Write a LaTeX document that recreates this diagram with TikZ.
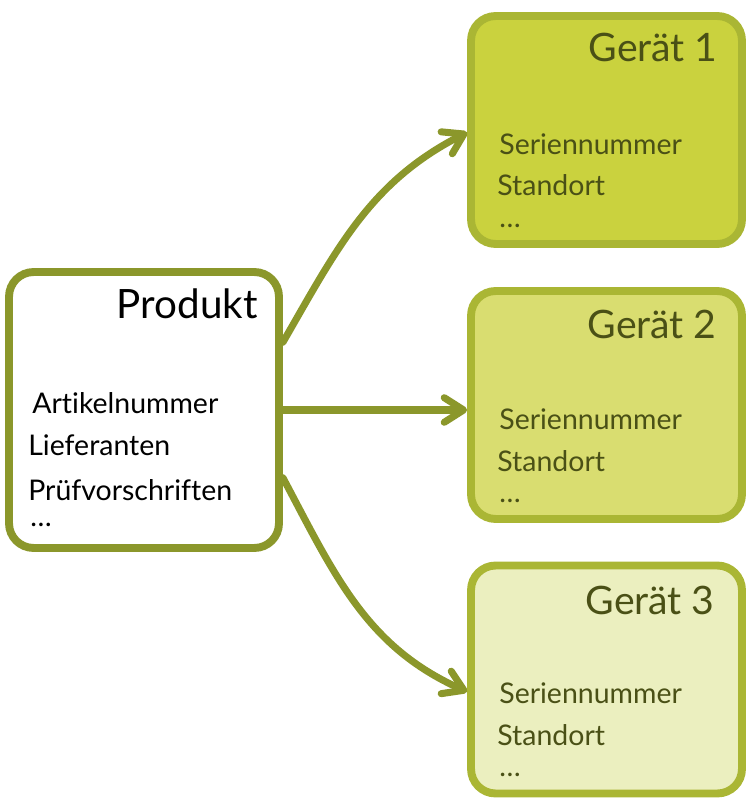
\documentclass[tikz,border=0pt]{standalone}
\usepackage{fontspec}
\setmainfont{Lato}[Ligatures=NoCommon]
\usepackage{xcolor}
\usepackage{tikz}
\usetikzlibrary{arrows.meta, positioning}

\definecolor{oliveline}{RGB}{139,151,43}
\definecolor{devline}{RGB}{170,182,52}
\definecolor{devtext}{RGB}{74,80,22}
\definecolor{devA}{RGB}{202,210,62}
\definecolor{devB}{RGB}{217,221,112}
\definecolor{devC}{RGB}{235,239,191}

\begin{document}
\begin{tikzpicture}[
    x=0.02cm, y=-0.02cm,
    >={Straight Barb[length=11pt, width=14pt, round]},
    box/.style={draw=#1, line width=4.5pt, rounded corners=14pt, fill=white},
    device/.style={box=devline, fill=#1, minimum width=5.42cm, minimum height=4.56cm},
    title/.style={anchor=base east, inner sep=0pt, font=\fontsize{22.3}{25}\selectfont},
    item/.style={anchor=base west, inner sep=0pt, font=\fontsize{16.2}{19}\selectfont},
    more/.style={item, text height=2pt, text depth=0pt},
    link/.style={->, line width=4pt, draw=oliveline, line cap=round}
]
\useasboundingbox (0,0) rectangle (750,810);

% Product box
\node[box=oliveline, minimum width=5.4cm, minimum height=5.52cm] (prod) at (144,410) {};
\node[title, font=\fontsize{23}{26}\selectfont] (prodtitle) at (258,318) {Produkt};
\node[item] (art) at (32,413) {Artikelnummer};
\node[item] (lief) at (28,455) {Lieferanten};
\node[item] (pruef) at (28,500) {Prüfvorschriften};
\node[more] (proddots) at (30,526) {\dots};

% Device boxes
\node[device=devA] (g1) at (606.5,130) {};
\node[title, text=devtext] (g1title) at (718,62) {Gerät 1};
\node[item, text=devtext] (g1sn) at (499,155) {Seriennummer};
\node[item, text=devtext] (g1st) at (497,196) {Standort};
\node[more, text=devtext] (g1dots) at (499,228) {\dots};

\node[device=devB] (g2) at (606.5,405) {};
\node[title, text=devtext] (g2title) at (717,338) {Gerät 2};
\node[item, text=devtext] (g2sn) at (499,429) {Seriennummer};
\node[item, text=devtext] (g2st) at (497,471) {Standort};
\node[more, text=devtext] (g2dots) at (499,502) {\dots};

\node[device=devC] (g3) at (606.5,679.5) {};
\node[title, text=devtext] (g3title) at (715,614) {Gerät 3};
\node[item, text=devtext] (g3sn) at (499,703) {Seriennummer};
\node[item, text=devtext] (g3st) at (497,745) {Standort};
\node[more, text=devtext] (g3dots) at (499,776) {\dots};

% Arrows
\draw[link] (prod.26) to[out=60, in=207] (g1.181);
\draw[link] (prod.east) -- (g2.west |- prod.east);
\draw[link] (prod.-26) to[out=-62, in=156] (g3.185);

\end{tikzpicture}
\end{document}
